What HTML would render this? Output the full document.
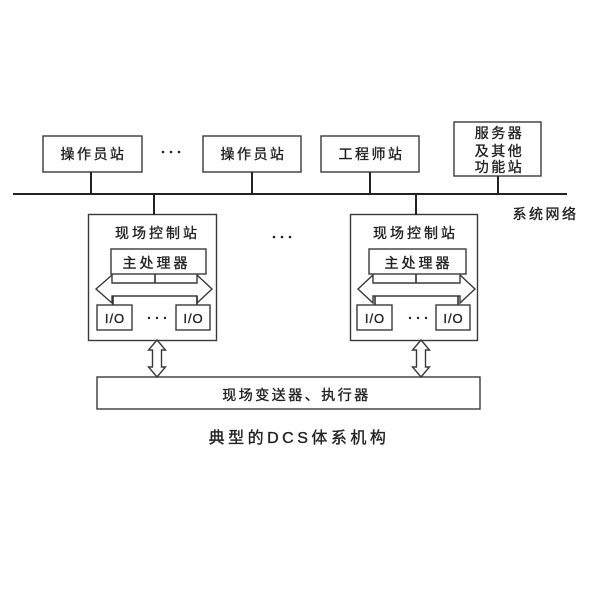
<!DOCTYPE html>
<html><head><meta charset="utf-8"><style>
html,body{margin:0;padding:0;background:#fff;}
svg{display:block;}
text{font-family:"Liberation Sans","Noto Sans CJK SC",sans-serif;fill:#222;stroke:#222;stroke-width:0.35;}
</style></head><body>
<svg width="600" height="600" viewBox="0 0 600 600" xmlns="http://www.w3.org/2000/svg">
<rect width="600" height="600" fill="#fff"/>
<g fill="none" stroke="#3a3a3a" stroke-width="1.4">
  <rect x="43" y="136" width="99" height="36"/>
  <rect x="203" y="136" width="98" height="36"/>
  <rect x="321" y="136" width="98" height="36"/>
  <rect x="454" y="122" width="87" height="54"/>
  <rect x="88.5" y="214.5" width="128" height="126"/>
  <rect x="350.5" y="214.5" width="127" height="126"/>
  <rect x="111" y="249" width="95" height="25"/>
  <rect x="369" y="249" width="97" height="25"/>
  <rect x="97" y="305" width="35" height="25"/>
  <rect x="176" y="305" width="34" height="25"/>
  <rect x="357" y="305" width="35" height="25"/>
  <rect x="436" y="305" width="34" height="25"/>
  <rect x="97" y="377" width="383" height="32"/>
  <path d="M96,289 L112,275 L112,283 L197,283 L197,275 L212,289 L197,303 L197,296 L112,296 L112,303 Z"/>
  <path d="M358,289 L373,275 L373,283 L460,283 L460,275 L475,289 L460,303 L460,296 L373,296 L373,303 Z"/>
  <path d="M157,340 L165.5,350 L161.5,350 L161.5,367 L165.5,367 L157,377 L148.5,367 L152.5,367 L152.5,350 L148.5,350 Z"/>
  <path d="M421,340 L429.5,350 L425.5,350 L425.5,367 L429.5,367 L421,377 L412.5,367 L416.5,367 L416.5,350 L412.5,350 Z"/>
</g>
<g stroke="#222" stroke-width="2" fill="none">
  <line x1="13" y1="194" x2="567" y2="194"/>
  <line x1="91" y1="172" x2="91" y2="194"/>
  <line x1="252" y1="172" x2="252" y2="194"/>
  <line x1="370" y1="172" x2="370" y2="194"/>
  <line x1="498" y1="176" x2="498" y2="194"/>
  <line x1="154" y1="194" x2="154" y2="215"/>
  <line x1="416" y1="194" x2="416" y2="215"/>
</g>
<g stroke="#333" stroke-width="1.6" fill="none">
  <line x1="155" y1="274" x2="155" y2="283"/>
  <line x1="416" y1="274" x2="416" y2="283"/>
  <line x1="113" y1="296" x2="113" y2="305"/>
  <line x1="197" y1="296" x2="197" y2="305"/>
  <line x1="375" y1="296" x2="375" y2="305"/>
  <line x1="458" y1="296" x2="458" y2="305"/>
</g>
<g fill="#222">
  <circle cx="163" cy="152" r="1.3"/><circle cx="171" cy="152" r="1.3"/><circle cx="179" cy="152" r="1.3"/>
  <circle cx="274" cy="237" r="1.3"/><circle cx="282" cy="237" r="1.3"/><circle cx="290" cy="237" r="1.3"/>
  <circle cx="149" cy="318" r="1.2"/><circle cx="157" cy="318" r="1.2"/><circle cx="165" cy="318" r="1.2"/>
  <circle cx="410" cy="318" r="1.2"/><circle cx="418" cy="318" r="1.2"/><circle cx="426" cy="318" r="1.2"/>
</g>
<g font-size="14" text-anchor="middle" letter-spacing="2.5">
  <text x="93.5" y="159">操作员站</text>
  <text x="253.5" y="159">操作员站</text>
  <text x="371.5" y="159">工程师站</text>
  <text x="499.5" y="138">服务器</text>
  <text x="499.5" y="156">及其他</text>
  <text x="499.5" y="172">功能站</text>
  <text x="545.5" y="219">系统网络</text>
  <text x="157.5" y="238" letter-spacing="3">现场控制站</text>
  <text x="415.5" y="238" letter-spacing="3">现场控制站</text>
  <text x="156.5" y="268" letter-spacing="3">主处理器</text>
  <text x="418.5" y="268" letter-spacing="3">主处理器</text>
  <text x="296.5" y="400" letter-spacing="2.5">现场变送器、执行器</text>
</g>
<g font-size="13" text-anchor="middle" letter-spacing="1">
  <text x="115" y="323">I/O</text>
  <text x="193.5" y="323">I/O</text>
  <text x="375" y="323">I/O</text>
  <text x="453.5" y="323">I/O</text>
</g>
<text x="299" y="443" font-size="16" text-anchor="middle" letter-spacing="3.5">典型的DCS体系机构</text>
</svg>
</body></html>
